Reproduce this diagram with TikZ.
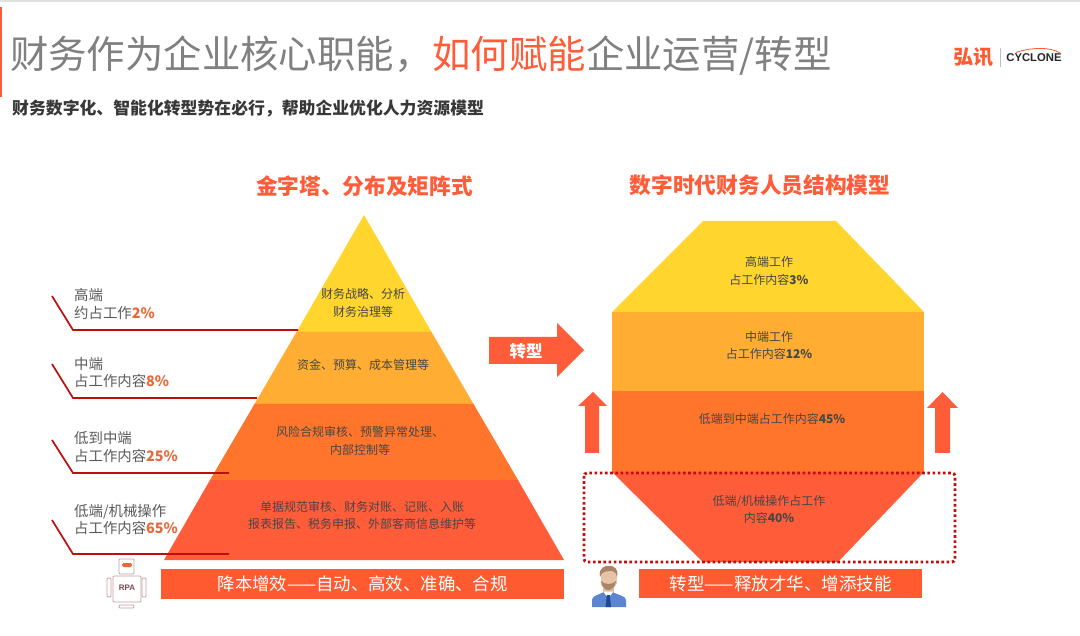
\documentclass[tikz,border=0pt]{standalone}
\usepackage{fontspec}
\setmainfont{Noto Sans CJK SC}
\newfontfamily\latinb{Liberation Sans}
\definecolor{cYel}{HTML}{FFD52E}
\definecolor{cAmb}{HTML}{FFAD33}
\definecolor{cOrg}{HTML}{FF752C}
\definecolor{cRed}{HTML}{FF5C3A}
\definecolor{cBar}{HTML}{FF5A30}
\definecolor{cLine}{HTML}{C00D0D}
\definecolor{cGray}{HTML}{808080}
\definecolor{cLab}{HTML}{5A5A5A}
\definecolor{cPct}{HTML}{E8693A}
\definecolor{cIcon}{HTML}{C8A0A0}
\definecolor{cRpa}{HTML}{7A4A50}
\definecolor{cSuit}{HTML}{5B86CF}
\definecolor{cTie}{HTML}{1F4A8C}
\definecolor{cSkin}{HTML}{E8C4A6}
\definecolor{cHair}{HTML}{A98467}
\definecolor{cNeck}{HTML}{DDBB9E}
\newcommand{\fsz}[2]{\fontsize{#1}{#2}\selectfont}
\tikzset{
  x=1pt,y=-1pt,
  leader/.style={draw=cLine,line width=1.7pt},
  sidelabel/.style={anchor=west,align=left,inner sep=0pt,text=cLab,font=\fsz{14.4}{17.6}},
  bandtext/.style={align=center,inner sep=0pt,text=black!72,font=\fsz{12}{17.6}},
  heading/.style={inner sep=0pt,text=cRed},
  barbox/.style={fill=cBar,text=white,inner sep=0pt,anchor=north west},
  arrowfill/.style={fill=cRed,draw=none},
  iconline/.style={draw=cIcon,line width=0.9pt,fill=white,rounded corners=1pt}
}
\begin{document}
\begin{tikzpicture}
\useasboundingbox (0,0) rectangle (1080,636);
\fill[white] (0,0) rectangle (1080,636);
\fill[black!12] (0,0) rectangle (1080,2);
\fill[cRed] (0,7) rectangle (1.5,97);

% title
\node[anchor=west,inner sep=0pt,text=cGray,font=\fsz{38.4}{40}] (title) at (10,55.5)
  {财务作为企业核心职能，\textcolor{cRed}{如何赋能}企业运营/转型};
\node[anchor=west,inner sep=0pt,text=black!78,font=\fsz{16.85}{20}\bfseries] (subtitle) at (12,109)
  {财务数字化、智能化转型势在必行，帮助企业优化人力资源模型};

% logo
\node[inner sep=0pt,text=cBar,font=\fsz{20}{22}\bfseries] (logoa) at (973.5,57) {弘讯};
\coordinate (sepa) at (1000,48);
\coordinate (sepb) at (1000,67);
\draw[black!25,line width=0.6pt] (sepa) -- (sepb);
\node[inner sep=0pt,text=black!85,font=\latinb\fsz{11.3}{12}\bfseries] (logob) at (1034,57.5) {CYCLONE};
\coordinate (swa) at (1016,52.5);
\coordinate (swb) at (1060,53);
\draw[cBar,line width=0.8pt] (swa) .. controls (1030,47.5) and (1050,46.5) .. (swb);

% headings
\node[heading,font=\fsz{21.7}{24}\bfseries] (hleft) at (364.5,186) {金字塔、分布及矩阵式};
\node[heading,font=\fsz{21.7}{24}\bfseries] (hright) at (760,185) {数字时代财务人员结构模型};

% pyramid
\fill[cYel] (364,215) -- (431.5,332) -- (296.5,332) -- cycle;
\fill[cAmb] (296.5,332) -- (431.5,332) -- (473.5,404) -- (254.5,404) -- cycle;
\fill[cOrg] (254.5,404) -- (473.5,404) -- (518,480) -- (210,480) -- cycle;
\fill[cRed] (210,480) -- (518,480) -- (564,560) -- (164,560) -- cycle;

\node[bandtext] (p1) at (363,303) {财务战略、分析\\财务治理等};
\node[bandtext] (p2) at (363,365) {资金、预算、成本管理等};
\node[bandtext] (p3) at (360,441) {风险合规审核、预警异常处理、\\内部控制等};
\node[bandtext] (p4) at (362,515.5) {单据规范审核、财务对账、记账、入账\\报表报告、税务申报、外部客商信息维护等};

% leaders
\coordinate (l1a) at (52,296); \coordinate (l1b) at (73,330); \coordinate (l1c) at (298,330);
\coordinate (l2a) at (52,364); \coordinate (l2b) at (73,398); \coordinate (l2c) at (257,398);
\coordinate (l3a) at (52,440); \coordinate (l3b) at (73,473); \coordinate (l3c) at (229,473);
\coordinate (l4a) at (52,520); \coordinate (l4b) at (73,554); \coordinate (l4c) at (229,554);
\draw[leader] (l1a) -- (l1b) -- (l1c);
\draw[leader] (l2a) -- (l2b) -- (l2c);
\draw[leader] (l3a) -- (l3b) -- (l3c);
\draw[leader] (l4a) -- (l4b) -- (l4c);

\node[sidelabel] (s1) at (74,304) {高端\\约占工作\textcolor{cPct}{\textbf{2\%}}};
\node[sidelabel] (s2) at (74,372.5) {中端\\占工作内容\textcolor{cPct}{\textbf{8\%}}};
\node[sidelabel] (s3) at (74,447) {低到中端\\占工作内容\textcolor{cPct}{\textbf{25\%}}};
\node[sidelabel] (s4) at (74,519.5) {低端/机械操作\\占工作内容\textcolor{cPct}{\textbf{65\%}}};

% bottom bars
\node[barbox,minimum width=403pt,minimum height=30pt,font=\fsz{17.4}{18}] (barl) at (161,569) {降本增效——自动、高效、准确、合规};
\node[barbox,minimum width=283pt,minimum height=29pt,font=\fsz{17.5}{18}] (barr) at (639,569) {转型——释放才华、增添技能};

% RPA robot
\filldraw[iconline] (107,578) rectangle (111,597);
\filldraw[iconline] (142,578) rectangle (146,597);
\filldraw[iconline] (119,559) rectangle (134,574);
\filldraw[iconline] (113,576) rectangle (141,602);
\filldraw[iconline] (119,605) rectangle (134,608);
\fill[cPct,rounded corners=1.5pt] (122,563) rectangle (132,567);
\node[inner sep=0pt,text=cRpa,font=\latinb\fsz{8}{9}\bfseries] (rpa) at (127,588) {RPA};

% right model
\fill[cYel] (703,221) -- (836,221) -- (924,312) -- (612,312) -- cycle;
\fill[cAmb] (612,312) rectangle (924,391);
\fill[cOrg] (612,391) rectangle (924,472);
\fill[cRed] (612,472) -- (924,472) -- (838,562) -- (703,562) -- cycle;

\node[bandtext] (r1) at (769,271) {高端工作\\占工作内容\textbf{3\%}};
\node[bandtext] (r2) at (769,345.5) {中端工作\\占工作内容\textbf{12\%}};
\node[bandtext] (r3) at (772,419) {低端到中端占工作内容\textbf{45\%}};
\node[bandtext] (r4) at (769,509.5) {低端/机械操作占工作\\内容\textbf{40\%}};

\draw[cLine,line width=2.8pt,dash pattern=on 2.6pt off 2.6pt,rounded corners=3pt] (584,473) rectangle (955,562);

% arrows
\path[arrowfill] (489,337) -- (557,337) -- (557,323) -- (584,350) -- (557,377) -- (557,364) -- (489,364) -- cycle;
\node[inner sep=0pt,text=white,font=\fsz{16.5}{18}\bfseries] (turn) at (526,351) {转型};
\path[arrowfill] (593,392) -- (607,406) -- (599,406) -- (599,453) -- (585,453) -- (585,406) -- (578,406) -- cycle;
\path[arrowfill] (942.5,392) -- (958,408) -- (950,408) -- (950,453) -- (935,453) -- (935,408) -- (927,408) -- cycle;

% person
\fill[cNeck] (603,586) rectangle (614,596);
\fill[cSuit] (592,607) -- (592,600) .. controls (592,596) and (598,595) .. (604,592) -- (612,592) .. controls (618,595) and (626,596) .. (626,600) -- (626,607) -- cycle;
\fill[white] (603,591.5) -- (613.5,591.5) -- (608.3,598) -- cycle;
\fill[cTie] (606.8,595) -- (609.8,595) -- (611,607) -- (605.6,607) -- cycle;
\fill[cSkin] (600.5,570) rectangle (616.5,584);
\fill[cSkin] (600.5,582) .. controls (601,592) and (616,592) .. (616.5,582) -- cycle;
\fill[cHair] (601,581) .. controls (603,593) and (614,593) .. (616,581) .. controls (612,585) and (605,585) .. (601,581) -- cycle;
\fill[cHair] (600,577) .. controls (598,567) and (606,565.5) .. (609,565.8) .. controls (614,565.5) and (619,569) .. (617,577) .. controls (616,572) and (614,571) .. (610,571) .. controls (606,571.5) and (602,571) .. (600,577) -- cycle;
\end{tikzpicture}
\end{document}
